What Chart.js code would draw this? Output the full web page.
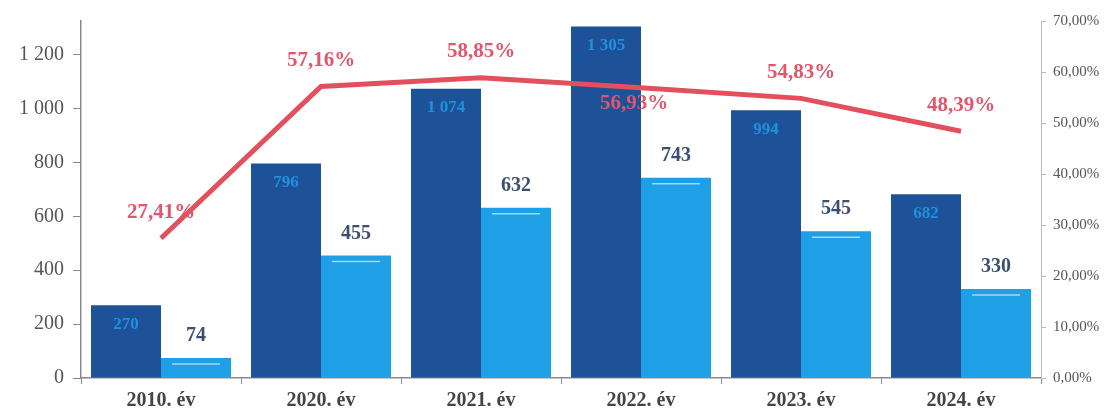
<!DOCTYPE html>
<html>
<head>
<meta charset="utf-8">
<script src="https://cdn.jsdelivr.net/npm/chart.js@4.4.1/dist/chart.umd.min.js"></script>
<style>
  html, body { margin: 0; padding: 0; background: #fff; }
  canvas { display: block; }
</style>
</head>
<body>
<canvas id="myChart" width="1117" height="419"></canvas>
<script>
// data
var years = ['2010. év', '2020. év', '2021. év', '2022. év', '2023. év', '2024. év'];
var totalVals = [270, 796, 1074, 1305, 994, 682];
var partVals = [74, 455, 632, 743, 545, 330];
var ratioVals = [27.41, 57.16, 58.85, 56.93, 54.83, 48.39];
var leftTicks = [0, 200, 400, 600, 800, 1000, 1200];
var rightTicks = [0, 10, 20, 30, 40, 50, 60, 70];

function fmtNum(v) {
  return String(v).replace(/\B(?=(\d{3})+(?!\d))/g, ' ');
}
function fmtPct(v) {
  return v.toFixed(2).replace('.', ',') + '%';
}

var serif = '"Liberation Serif", "DejaVu Serif", serif';

// draws the value labels on bars and line
var labelPlugin = {
  id: 'labels',
  afterDatasetsDraw: function(chart) {
    var c = chart.ctx;
    c.save();
    c.textAlign = 'center';
    c.textBaseline = 'middle';

    var m0 = chart.getDatasetMeta(0);
    c.font = 'bold 17px ' + serif;
    c.fillStyle = '#2190dd';
    m0.data.forEach(function(b, i) {
      c.fillText(fmtNum(totalVals[i]), b.x, b.y + 19);
    });

    var m1 = chart.getDatasetMeta(1);
    m1.data.forEach(function(b, i) {
      // faint white highlight near the top of the light bars
      c.strokeStyle = 'rgba(255,255,255,0.6)';
      c.lineWidth = 1.5;
      c.beginPath();
      c.moveTo(b.x - 24, b.y + 6);
      c.lineTo(b.x + 24, b.y + 6);
      c.stroke();
      c.font = 'bold 20px ' + serif;
      c.fillStyle = '#3b5070';
      c.fillText(fmtNum(partVals[i]), b.x, b.y - 22);
    });

    var m2 = chart.getDatasetMeta(2);
    c.font = 'bold 21px ' + serif;
    c.fillStyle = '#e0566b';
    m2.data.forEach(function(p, i) {
      if (i == 3) c.fillText(fmtPct(ratioVals[i]), p.x - 7, p.y + 16);
      else c.fillText(fmtPct(ratioVals[i]), p.x, p.y - 26);
    });
    c.restore();
  }
};

var ctx = document.getElementById('myChart').getContext('2d');
var myChart = new Chart(ctx, {
  type: 'bar',
  data: {
    labels: years,
    datasets: [
      {
        label: 'total',
        data: totalVals,
        backgroundColor: '#1d5198',
        borderWidth: 0,
        yAxisID: 'y',
        order: 2
      },
      {
        label: 'part',
        data: partVals,
        backgroundColor: '#1e9fe6',
        borderWidth: 0,
        yAxisID: 'y',
        order: 2
      },
      {
        type: 'line',
        label: 'ratio',
        data: ratioVals,
        borderColor: '#e34f5d',
        borderWidth: 5,
        pointRadius: 0,
        tension: 0,
        yAxisID: 'y1',
        order: 1
      }
    ]
  },
  options: {
    responsive: false,
    animation: false,
    devicePixelRatio: 1,
    layout: { padding: { top: 17, left: 0, right: 0, bottom: 0 } },
    plugins: { legend: { display: false }, tooltip: { enabled: false } },
    datasets: { bar: { categoryPercentage: 0.875, barPercentage: 1 } },
    scales: {
      x: {
        offset: true,
        grid: { offset: true, drawOnChartArea: false, tickLength: 6, color: '#888' },
        border: { color: '#888', width: 1.5 },
        ticks: { color: '#444', font: { family: serif, size: 20, weight: 'bold' }, padding: 5 },
        afterFit: function(s) { s.height = 41; }
      },
      y: {
        position: 'left',
        min: 0,
        max: 1325,
        afterBuildTicks: function(s) { s.ticks = leftTicks.map(function(v) { return { value: v }; }); },
        grid: { drawOnChartArea: false, tickLength: 8, color: '#888' },
        border: { color: '#888', width: 1.5 },
        ticks: {
          color: '#555',
          font: { family: serif, size: 20 },
          padding: 9,
          callback: function(v) { return fmtNum(v); }
        },
        afterFit: function(s) { s.width = 81; }
      },
      y1: {
        position: 'right',
        min: 0,
        max: 70,
        afterBuildTicks: function(s) { s.ticks = rightTicks.map(function(v) { return { value: v }; }); },
        grid: { drawOnChartArea: false, tickLength: 5, color: '#bbb' },
        border: { color: '#bbb', width: 1 },
        ticks: {
          color: '#555',
          font: { family: serif, size: 15 },
          padding: 7,
          callback: function(v) { return v.toFixed(2).replace('.', ',') + '%'; }
        },
        afterFit: function(s) { s.width = 76; }
      }
    }
  },
  plugins: [labelPlugin]
});
</script>
</body>
</html>
